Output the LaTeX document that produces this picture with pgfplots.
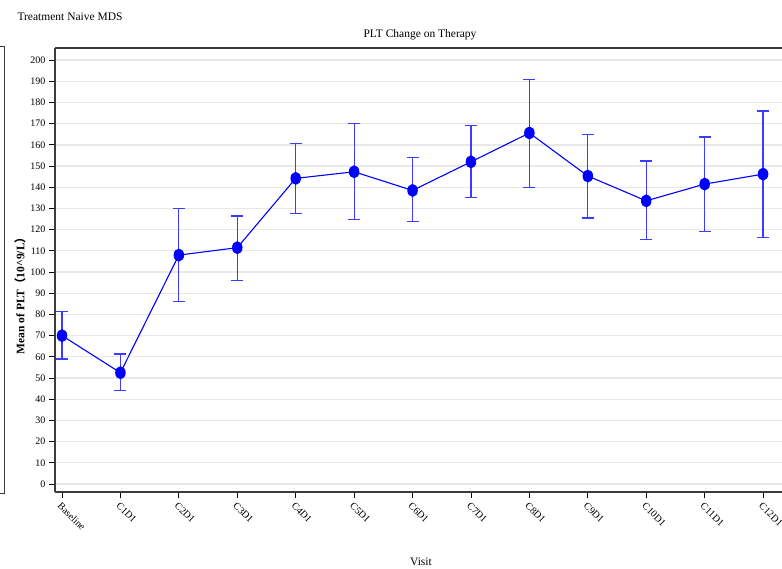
\documentclass[border=0pt]{standalone}
\usepackage{pgfplots}
\usepackage{pgfplotstable}
\pgfplotsset{compat=1.18}
\usepackage{fontspec}
\setmainfont{Liberation Serif}
\newfontfamily\cjk{Noto Sans CJK SC}

\definecolor{ptblue}{RGB}{0,0,255}
\definecolor{barblue}{RGB}{60,60,255}
\definecolor{gridgray}{RGB}{232,232,232}
\definecolor{axisgray}{RGB}{60,60,60}

% visit, mean, upper error, lower error
\pgfplotstableread{
x  mean   ep    em
0  70     11.3  11.0
1  52.5   8.8   8.5
2  108    22.0  22.0
3  111.5  14.9  15.4
4  144.2  16.3  16.5
5  147.3  22.7  22.6
6  138.5  15.4  14.8
7  152    17.3  17.0
8  165.6  25.4  25.6
9  145.3  19.7  19.8
10 133.6  18.8  18.2
11 141.5  22.2  22.3
12 146.2  29.8  29.8
}\plt

\begin{document}
\begin{tikzpicture}
  \path[use as bounding box] (0pt,0pt) rectangle (782pt,568pt);
  % cut-off neighbour panel on the left
  \draw[axisgray, line width=1pt] (-20pt,75pt) rectangle (4.5pt,521pt);

  \node[anchor=west, font=\fontsize{11.5}{13}\selectfont] at (14pt,551pt) {Treatment Naive MDS};
  \node[font=\fontsize{11.5}{13}\selectfont] at (420pt,533pt) {PLT Change on Therapy};
  \node[font=\fontsize{11.5}{13}\selectfont] at (421pt,6pt) {Visit};
  \node[rotate=90, font=\bfseries\fontsize{11.5}{13}\selectfont] at (20pt,275pt)
    {Mean of PLT{\cjk （}10\^{}9/L{\cjk ）}};

  \begin{axis}[
      at={(55pt,76pt)}, anchor=south west,
      scale only axis,
      width=737.3pt, height=444pt,
      xmin=-0.12, xmax=12.5,
      ymin=-3.77, ymax=205.7,
      axis x line=box, axis y line=left,
      axis line style={-, axisgray, line width=1.2pt},
      xtick pos=bottom, ytick pos=left,
      tick align=outside,
      major tick length=6pt,
      tick style={black, line width=0.8pt},
      xtick={0,...,12},
      xticklabels={Baseline,C1D1,C2D1,C3D1,C4D1,C5D1,C6D1,C7D1,C8D1,C9D1,C10D1,C11D1,C12D1},
      x tick label style={rotate=-45, anchor=north west, inner sep=2.5pt},
      ytick={0,10,...,200},
      ymajorgrids,
      major grid style={gridgray, line width=1.3pt},
      ticklabel style={font=\fontsize{10}{11}\selectfont},
      /pgf/number format/assume math mode=true,
      clip=false,
    ]
    % error bars
    \addplot[
      barblue, only marks, mark=none, forget plot,
      error bars/.cd,
        y dir=both, y explicit,
        error bar style={barblue, line width=1.2pt},
        error mark=-,
        error mark options={rotate=90, barblue, line width=1.2pt, mark size=6pt},
    ] table[x=x, y=mean, y error plus=ep, y error minus=em] {\plt};
    % means
    \addplot[
      ptblue, line width=1.1pt,
      mark=*, mark size=4.7pt,
      mark options={yscale=1.25, fill=ptblue, draw=ptblue},
    ] table[x=x, y=mean] {\plt};
  \end{axis}
\end{tikzpicture}
\end{document}
